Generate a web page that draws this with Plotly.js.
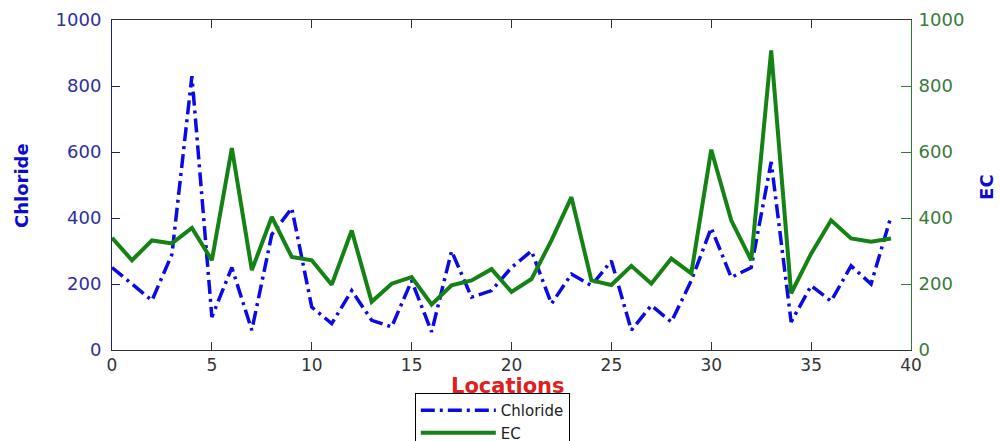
<!DOCTYPE html>
<html>
<head>
<meta charset="utf-8">
<script src="https://cdn.plot.ly/plotly-3.0.1.min.js"></script>
<style>html,body{margin:0;padding:0;background:#fff;}#chart{width:1000px;height:441px;}</style>
</head>
<body>
<div id="chart"></div>
<script>
var locations = [0,1,2,3,4,5,6,7,8,9,10,11,12,13,14,15,16,17,18,19,20,21,22,23,24,25,26,27,28,29,30,31,32,33,34,35,36,37,38,39];
var chloride = [250,200,150,290,830,100,250,60,350,430,130,80,180,90,70,210,55,300,160,180,250,300,140,230,195,270,60,135,85,210,370,220,250,570,85,195,148,255,200,405];
var ec = [340,272,332,323,370,272,612,242,403,282,272,198,362,146,201,221,138,196,211,245,176,215,332,463,211,197,255,201,277,232,607,393,272,908,172,292,393,338,328,338];
var tickVals = [0,200,400,600,800,1000];
var xTitle = 'Locations', y1Title = 'Chloride', y2Title = 'EC';

var traces = [
  {x: locations, y: chloride, name: 'Chloride', type: 'scatter', mode: 'lines',
   line: {color: '#0a0ae6', width: 3.5, dash: '14px,5px,3px,5px'}, yaxis: 'y'},
  {x: locations, y: ec, name: 'EC', type: 'scatter', mode: 'lines',
   line: {color: '#148214', width: 4}, yaxis: 'y2'}
];

var titleFont = 'DejaVu Sans, Arial, sans-serif';

var layout = {
  width: 1000, height: 441,
  margin: {l: 112, r: 89, t: 20, b: 91, autoexpand: false},
  paper_bgcolor: '#ffffff', plot_bgcolor: '#ffffff',
  font: {family: titleFont, size: 15, color: '#222'},
  showlegend: true,
  legend: {x: 0.379, xanchor: 'left', y: -0.13, yanchor: 'top',
           bgcolor: '#ffffff', bordercolor: '#000000', borderwidth: 1,
           font: {family: titleFont, size: 15, color: '#222'},
           itemwidth: 75, tracegroupgap: 0},
  xaxis: {range: [0, 40], tickvals: [0,5,10,15,20,25,30,35,40],
          ticks: 'inside', ticklen: 8, tickcolor: '#333', showline: true, linecolor: '#333', linewidth: 1,
          mirror: 'ticks', showgrid: false, zeroline: false,
          tickfont: {family: titleFont, size: 17, color: '#333'}},
  yaxis: {range: [0, 1000], tickvals: tickVals,
          ticks: 'inside', ticklen: 8, tickcolor: '#1c1c8c', showline: true, linecolor: '#1c1c8c', linewidth: 1,
          showgrid: false, zeroline: false, ticklabelstandoff: 6,
          tickfont: {family: titleFont, size: 18, color: '#2e2ea0'}},
  yaxis2: {range: [0, 1000], tickvals: tickVals, overlaying: 'y', side: 'right',
           ticks: 'inside', ticklen: 10, tickcolor: '#2e7d2e', showline: true, linecolor: '#2e7d2e', linewidth: 1,
           showgrid: false, zeroline: false, ticklabelstandoff: 3,
           tickfont: {family: titleFont, size: 18, color: '#3a7a3a'}},
  annotations: [
    {text: xTitle, xref: 'paper', yref: 'paper', x: 0.4956, y: -0.109, xanchor: 'center', yanchor: 'middle',
     showarrow: false, borderpad: 0, font: {family: titleFont, size: 21, color: '#e02020', weight: 'bold'}},
    {text: y1Title, xref: 'paper', yref: 'paper', x: -0.1126, y: 0.497, xanchor: 'center', yanchor: 'middle',
     textangle: -90, showarrow: false, font: {family: titleFont, size: 18, color: '#0a0ad0', weight: 'bold'}},
    {text: y2Title, xref: 'paper', yref: 'paper', x: 1.095, y: 0.494, xanchor: 'center', yanchor: 'middle',
     textangle: -90, showarrow: false, font: {family: titleFont, size: 18, color: '#0a0ad0', weight: 'bold'}}
  ]
};

Plotly.newPlot('chart', traces, layout, {displayModeBar: false, staticPlot: true});
</script>
</body>
</html>
